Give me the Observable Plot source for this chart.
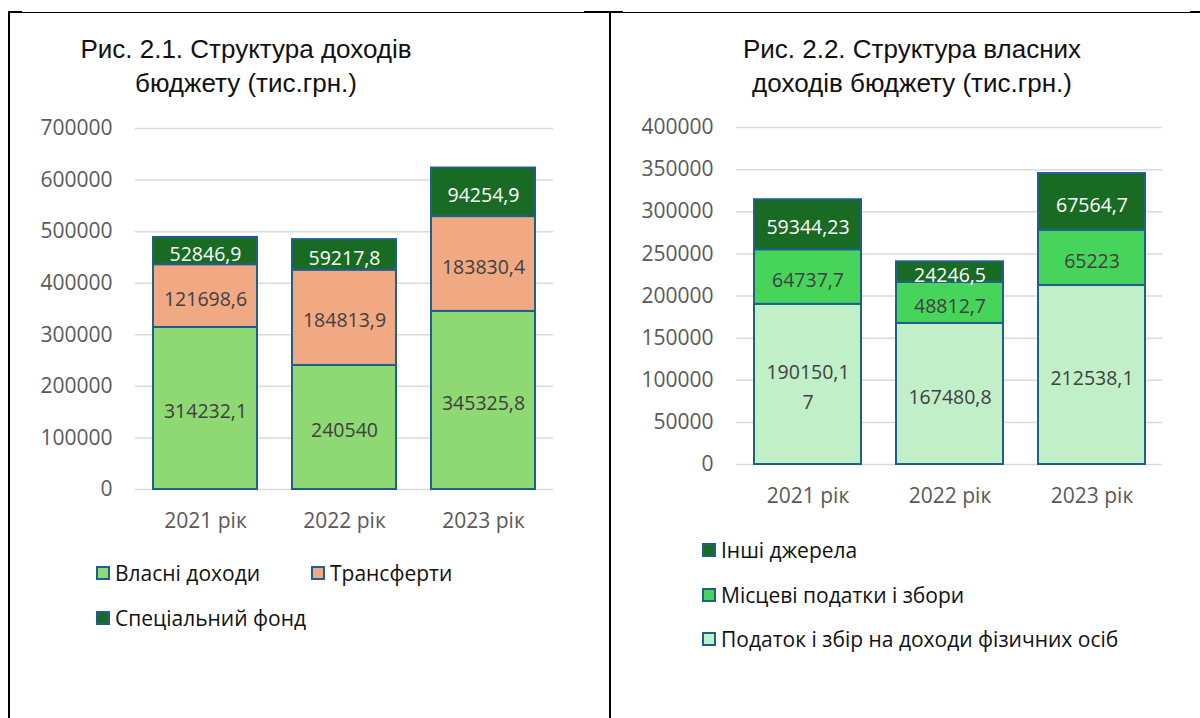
<!DOCTYPE html>
<html><head><meta charset="utf-8">
<script src="https://cdn.jsdelivr.net/npm/d3@7"></script>
<script src="https://cdn.jsdelivr.net/npm/@observablehq/plot@0.6"></script>
<style>
body{margin:0;background:#fff;width:1200px;height:718px;overflow:hidden;position:relative;font-family:"Open Sans",sans-serif}
.ab{position:absolute}
.line{position:absolute;background:#000}
.title{position:absolute;font-family:"Liberation Sans",Arial,sans-serif;font-size:26px;line-height:34px;color:#111;text-align:center;white-space:nowrap}
.leg{position:absolute;display:flex;align-items:center;font-size:21px;color:#111;white-space:nowrap;height:30px}
.sw{width:14px;height:14px;box-sizing:border-box;border:2px solid #1F5F8B;margin-right:5px;flex:none}
</style></head><body>
<div class="line" style="left:8px;top:12px;width:1192px;height:1px"></div>
<div class="line" style="left:8px;top:11px;width:14px;height:2px"></div>
<div class="line" style="left:584px;top:11px;width:39px;height:2px"></div>
<div class="line" style="left:1190px;top:11px;width:10px;height:2px"></div>
<div class="line" style="left:8px;top:11px;width:2px;height:707px"></div>
<div class="line" style="left:609px;top:12px;width:2px;height:706px"></div>

<div class="title" style="left:46px;width:400px;top:32px">Рис. 2.1. Структура доходів<br>бюджету (тис.грн.)</div>
<div class="title" style="left:712px;width:400px;top:32px">Рис. 2.2. Структура власних<br>доходів бюджету (тис.грн.)</div>

<div id="chartA" class="ab" style="left:0;top:100px"></div>
<div id="chartB" class="ab" style="left:610px;top:100px"></div>
<script>
const years = ["2021 рік", "2022 рік", "2023 рік"];

// Рис. 2.1
const seriesA = ["Власні доходи", "Трансферти", "Спеціальний фонд"];
const ownIncome = [314232.1, 240540, 345325.8];
const transfers = [121698.6, 184813.9, 183830.4];
const specialFund = [52846.9, 59217.8, 94254.9];
const colorsA = ["#8ED973", "#F1A983", "#196B24"];
const ticksA = [0, 100000, 200000, 300000, 400000, 500000, 600000, 700000];

// Рис. 2.2
const seriesB = ["Податок і збір на доходи фізичних осіб", "Місцеві податки і збори", "Інші джерела"];
const pitTax = [190150.17, 167480.8, 212538.1];
const localTax = [64737.7, 48812.7, 65223];
const otherSrc = [59344.23, 24246.5, 67564.7];
const colorsB = ["#C1F0C8", "#47D45A", "#196B24"];
const ticksB = [0, 50000, 100000, 150000, 200000, 250000, 300000, 350000, 400000];

const fmt = v => {
  const s = String(v).replace(".", ",");
  return s.length > 8 ? s.slice(0, 8) + "\n" + s.slice(8) : s;
};

function chart({series, values, colors, ticks, width, height, marginLeft, marginRight, marginTop, marginBottom}) {
  const data = [];
  series.forEach((s, i) => years.forEach((y, j) => data.push({year: y, series: s, value: values[i][j], dark: i === series.length - 1})));
  const font = '"Open Sans", sans-serif';
  return Plot.plot({
    width, height, marginLeft, marginRight, marginTop, marginBottom,
    style: {fontFamily: font, background: "transparent", overflow: "visible"},
    x: {domain: years, paddingInner: 0.25, paddingOuter: 0.125, label: null},
    y: {domain: [0, ticks[ticks.length - 1]], label: null},
    color: {domain: series, range: colors},
    marks: [
      Plot.ruleY(ticks, {stroke: "#d9d9d9", strokeWidth: 1.5}),
      Plot.axisY({ticks, tickSize: 0, tickPadding: 23, fontSize: 21, fill: "#595959", tickFormat: d => String(d), label: null}),
      Plot.axisX({tickSize: 0, tickPadding: 24, fontSize: 21, fill: "#595959", label: null}),
      Plot.barY(data, {x: "year", y: "value", fill: "series", order: series, stroke: "#1F5F8B", strokeWidth: 2}),
      Plot.text(data, Plot.stackY({x: "year", y: "value", z: "series", order: series,
        text: d => d.dark ? null : fmt(d.value), fill: "#404040", fontSize: 19.5, lineHeight: 1.55})),
      Plot.text(data, Plot.stackY({x: "year", y: "value", z: "series", order: series,
        text: d => d.dark ? fmt(d.value) : null, fill: "#ffffff", fontSize: 19.5, lineHeight: 1.55}))
    ]
  });
}

document.getElementById("chartA").append(chart({
  series: seriesA, values: [ownIncome, transfers, specialFund], colors: colorsA, ticks: ticksA,
  width: 600, height: 450, marginLeft: 135, marginRight: 47, marginTop: 28, marginBottom: 61
}));
document.getElementById("chartB").append(chart({
  series: seriesB, values: [pitTax, localTax, otherSrc], colors: colorsB, ticks: ticksB,
  width: 590, height: 420, marginLeft: 126, marginRight: 38, marginTop: 27, marginBottom: 56
}));

function legend(names, colors, pos) {
  names.forEach((n, i) => {
    const d = document.createElement("div");
    d.className = "leg";
    d.style.left = pos[i][0] + "px";
    d.style.top = (pos[i][1] - 15) + "px";
    const sw = document.createElement("span");
    sw.className = "sw";
    sw.style.background = colors[i];
    d.append(sw, document.createTextNode(n));
    document.body.append(d);
  });
}
legend(seriesA, colorsA, [[96, 573], [311, 573], [96, 618]]);
legend(seriesB.slice().reverse(), colorsB.slice().reverse(), [[702, 550], [702, 595], [702, 639]]);
</script>
</body></html>
